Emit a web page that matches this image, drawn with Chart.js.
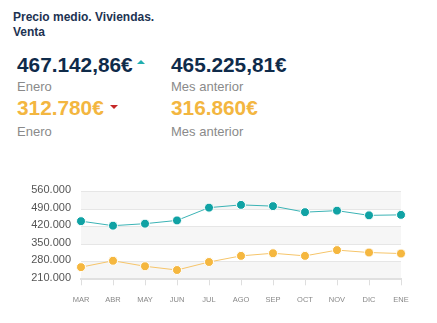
<!DOCTYPE html>
<html>
<head>
<meta charset="utf-8">
<script src="https://cdn.jsdelivr.net/npm/chart.js@4"></script>
<style>
  body { margin: 0; background: #fff; font-family: "Liberation Sans", Arial, sans-serif; }
  #wrap { position: relative; width: 437px; height: 323px; overflow: hidden; }
  .t { position: absolute; white-space: nowrap; }
  .title { left: 13px; top: 10px; font-size: 12px; font-weight: bold; color: #1d3352; line-height: 14.5px; }
  .big { font-size: 20.8px; font-weight: bold; line-height: 20px; }
  .blue { color: #0f2b4a; }
  .yel { color: #f3b640; }
  .sub { font-size: 13px; color: #8a8a8a; line-height: 14px; }
  .tri { position: absolute; width: 0; height: 0; border-left: 4px solid transparent; border-right: 4px solid transparent; }
  #chartBox { position: absolute; left: 0; top: 175px; width: 437px; height: 140px; }
</style>
</head>
<body>
<div id="wrap">
  <div class="t title">Precio medio. Viviendas.<br>Venta</div>

  <div class="t big blue" style="left:17px; top:55px;">467.142,86€</div>
  <div class="tri" style="left:137px; top:60px; border-bottom:4px solid #20aeb0;"></div>
  <div class="t big blue" style="left:171px; top:55px;">465.225,81€</div>
  <div class="t sub" style="left:17px; top:80px;">Enero</div>
  <div class="t sub" style="left:171px; top:80px;">Mes anterior</div>

  <div class="t big yel" style="left:17px; top:98px;">312.780€</div>
  <div class="tri" style="left:110px; top:105px; border-top:4px solid #c62828;"></div>
  <div class="t big yel" style="left:171px; top:98px;">316.860€</div>
  <div class="t sub" style="left:17px; top:125px;">Enero</div>
  <div class="t sub" style="left:171px; top:125px;">Mes anterior</div>

  <div id="chartBox"><canvas id="precio" width="437" height="140"></canvas></div>
</div>
<script>
var meses = ["MAR", "ABR", "MAY", "JUN", "JUL", "AGO", "SEP", "OCT", "NOV", "DIC", "ENE"];
var precioViviendas = [442000, 424000, 432000, 445000, 496000, 507000, 502000, 478000, 484000, 465225.81, 467142.86];
var precioOtro = [258500, 284000, 262000, 247000, 279000, 303500, 314000, 303500, 326500, 316860, 312780];
var ejeMin = 210000, ejeMax = 560000, ejePaso = 70000;

// bandas grises alternas detras de la grafica
var bandas = {
    id: 'bandas',
    beforeDraw: function (chart) {
        var ctx = chart.ctx, y = chart.scales.y, area = chart.chartArea;
        ctx.save();
        ctx.fillStyle = '#f6f6f6';
        for (var v = ejeMax, i = 0; v > ejeMin; v -= ejePaso, i++) {
            if (i % 2 === 0) {
                var top = y.getPixelForValue(v), bot = y.getPixelForValue(v - ejePaso);
                ctx.fillRect(area.left, top, area.right - area.left, bot - top);
            }
        }
        ctx.restore();
    }
};

var chrt = document.getElementById("precio").getContext("2d");
var chartId = new Chart(chrt, {
    type: 'line',
    data: {
        labels: meses,
        datasets: [{
            label: "Viviendas",
            data: precioViviendas,
            borderColor: '#3bb3b5',
            borderWidth: 1,
            backgroundColor: '#10a2a4',
            pointBackgroundColor: '#10a2a4',
            pointBorderColor: '#ffffff',
            pointBorderWidth: 1,
            pointRadius: 4.5,
            tension: 0
        }, {
            label: "Otro",
            data: precioOtro,
            borderColor: '#f6c56a',
            borderWidth: 1,
            backgroundColor: '#f5b73f',
            pointBackgroundColor: '#f5b73f',
            pointBorderColor: '#ffffff',
            pointBorderWidth: 1,
            pointRadius: 4.5,
            tension: 0
        }]
    },
    options: {
        responsive: false,
        animation: false,
        layout: { padding: { top: 13, right: 36, left: 0, bottom: 0 } },
        scales: {
            y: {
                min: ejeMin,
                max: ejeMax,
                afterFit: function (s) { s.width = 81; },
                ticks: {
                    stepSize: ejePaso,
                    padding: 10,
                    labelOffset: -1.5,
                    color: '#555',
                    font: { family: 'Liberation Sans', size: 11 },
                    callback: function (val) {
                        return val.toLocaleString('de-DE');
                    }
                },
                grid: { color: '#e6e6e6', drawTicks: false },
                border: { display: false }
            },
            x: {
                offset: false,
                afterFit: function (s) { s.height = 35.7; },
                ticks: {
                    padding: 10,
                    color: '#888',
                    maxRotation: 0,
                    autoSkip: false,
                    font: { family: 'Liberation Sans', size: 7.5 }
                },
                grid: { drawOnChartArea: false, drawTicks: true, tickLength: 6, color: '#dedede' },
                border: { color: '#e0e0e0', width: 2 }
            }
        },
        plugins: {
            legend: { display: false },
            tooltip: { enabled: false }
        }
    },
    plugins: [bandas]
});
</script>
</body>
</html>
